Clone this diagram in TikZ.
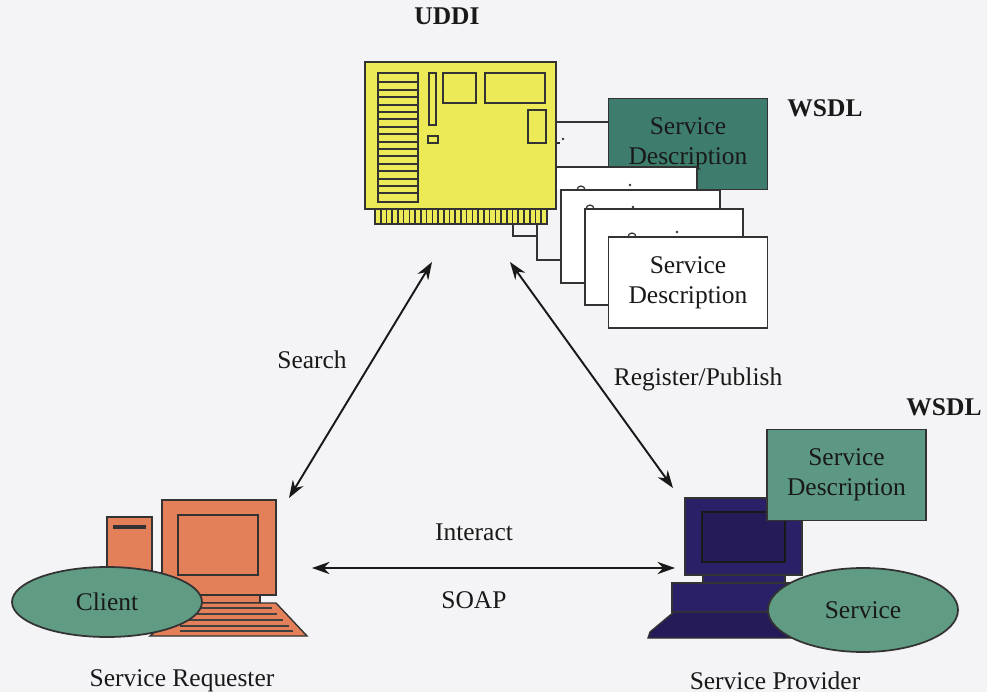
\documentclass[tikz,border=0pt]{standalone}
\usepackage{fontspec}
\setmainfont{Liberation Serif}
\usepackage{xcolor}
\definecolor{colBack}{HTML}{F4F4F6}
\definecolor{colCard}{HTML}{EDEA58}
\definecolor{colDoc}{HTML}{3E7D6D}
\definecolor{colDocLight}{HTML}{5C9884}
\definecolor{colOval}{HTML}{609C84}
\definecolor{colPC}{HTML}{E3805A}
\definecolor{colHost}{HTML}{2A2068}
\usepackage{tikz}
\usetikzlibrary{arrows.meta, positioning, calc, shapes.geometric}

\begin{document}
\begin{tikzpicture}[x=0.02cm, y=-0.02cm, >={Stealth[length=10pt, width=7pt]},
		every node/.style={font=\fontsize{14.5}{17}\selectfont, inner sep=0pt, text=black!90},
		link/.style={<->, line width=1.1pt, black!90},
		part/.style={draw=black!80, line width=0.8pt},
		sheet/.style={draw=black!80, line width=0.8pt, fill=white},
		doc/.style={draw=black!80, line width=1pt, minimum width=3.18cm, minimum height=1.82cm, align=center},
		oval/.style={ellipse, draw=black!80, line width=1pt, fill=colOval, minimum width=3.8cm, minimum height=1.4cm},
		tag/.style={font=\fontsize{14.5}{17}\selectfont\bfseries, anchor=base}]
			\fill[colBack] (0,0) rectangle (987,692);
			\useasboundingbox (0,0) rectangle (987,692);

			% registry card
			\node[tag] at (447,25) {UDDI};
			\draw[part, line width=1.1pt, fill=colCard] (365,62) rectangle (556,209);
			\draw[part, fill=colCard] (375,209) rectangle (547,224);
			\foreach \i in {1,...,29}{
				\draw[part, line width=0.9pt] ({375+\i*5.73},209) -- ++(0,15);
			}
			\draw[part, line width=1.1pt, fill=colCard] (378,73) rectangle (418,202);
			\foreach \i in {1,...,16}{
				\draw[part, line width=1.1pt] (378,{75+\i*7.4}) -- (418,{75+\i*7.4});
			}
			\draw[part] (429,73) rectangle (436,125);
			\draw[part] (428,136) rectangle (438,143);
			\draw[part] (443,73) rectangle (476,103);
			\draw[part] (485,73) rectangle (545,103);
			\draw[part] (528,110) rectangle (546,143);

			% published descriptions
			\draw[part] (556,122) -- (608,122);
			\draw[part] (556,143) -- (560,143);
			\node[doc, fill=colDoc] (wsdlReg) at (688,144) {Service\\Description};
			\fill[white] (557,167) rectangle (697,190);
			\draw[part] (557,167) -- (697,167) -- (697,190);
			\draw[sheet] (561,190) rectangle (720,283);
			\draw[sheet] (585,209) rectangle (743,305);
			\node[doc, fill=white] (descReg) at (688,282.5) {Service\\Description};
			\draw[part] (513,224) |- (537,236);
			\draw[part] (537,224) |- (561,260);
			\foreach \x/\y in {563/139, 630/185, 633/207, 677/232}{
				\fill[black!80] (\x,\y) circle[radius=1.4];
			}
			\foreach \x/\y in {581/190, 590/209, 632/237}{
				\draw[black!80, line width=0.7pt] (\x-4,\y) arc[start angle=180, end angle=360, radius=4];
			}
			\node[tag] at (825,117) {WSDL};

			% requester
			\draw[part, fill=colPC] (107,517) rectangle (152,600);
			\draw[line width=2pt, black!80] (113,527) -- (146,527);
			\draw[part, fill=colPC] (162,500) rectangle (276,595);
			\draw[part, line width=1.1pt, fill=colPC] (178,515) rectangle (258,575);
			\draw[part, fill=colPC] (200,595) rectangle (260,603);
			\draw[part, fill=colPC] (190,603) -- (276,603) -- (307,636) -- (150,636) -- cycle;
			\foreach \y in {608,614,620,626,631}{
				\draw[line width=1.3pt, black!75] (180,\y) -- ({276+(\y-603)*0.94-9},\y);
			}
			\node[oval] (client) at (107,602) {Client};
			\node[anchor=base] at (182,686) {Service Requester};

			% provider
			\draw[part, fill=colHost] (685,498) rectangle (802,575);
			\draw[draw=black!90, line width=0.8pt, fill=colHost!85!black] (702,512) rectangle (785,562);
			\draw[part, fill=colHost] (703,575) rectangle (785,583);
			\draw[part, fill=colHost] (672,583) rectangle (800,612);
			\draw[part, fill=colHost!85!black] (674,612) -- (800,612) -- (800,638) -- (648,638) -- (650,632) -- cycle;
			\node[doc, fill=colDocLight] (wsdlHost) at (846.5,475) {Service\\Description};
			\node[oval, minimum height=1.68cm] (service) at (863,610) {Service};
			\node[tag] at (944,416) {WSDL};
			\node[anchor=base] at (775,689) {Service Provider};

			% interactions
			\coordinate (srchA) at (432,262);
			\coordinate (srchB) at (289,498);
			\coordinate (regA) at (510,262);
			\coordinate (regB) at (673,488);
			\coordinate (soapA) at (312,568);
			\coordinate (soapB) at (675,568);
			\draw[link] (srchA) -- (srchB);
			\draw[link] (regA) -- (regB);
			\draw[link] (soapA) -- (soapB);
			\node[anchor=base] at (312,369) {Search};
			\node[anchor=base] at (698,385) {Register/Publish};
			\node[anchor=base] at (474,540) {Interact};
			\node[anchor=base] at (474,608) {SOAP};
		\end{tikzpicture}
\end{document}
